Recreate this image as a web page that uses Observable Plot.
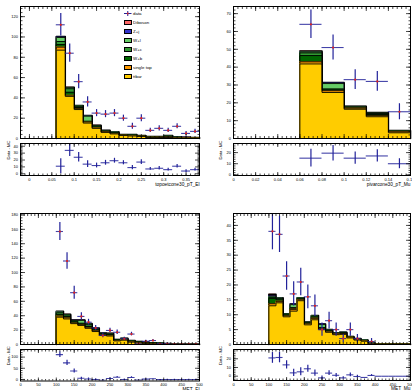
<!DOCTYPE html>
<html><head><meta charset="utf-8">
<script src="https://cdn.jsdelivr.net/npm/d3@7"></script>
<script src="https://cdn.jsdelivr.net/npm/@observablehq/plot@0.6"></script>
<style>
html,body{margin:0;padding:0;background:#fff;}
#root{position:relative;width:412px;height:390px;overflow:hidden;font-family:"Liberation Sans",Arial,sans-serif;}
#root svg{position:absolute;overflow:visible;background:transparent;}
.lg{position:absolute;white-space:nowrap;color:#000;font-size:4.4px;line-height:5.5px;}
.bx{position:absolute;box-sizing:border-box;border:0.8px solid #000;width:7.5px;height:5.5px;}
</style></head><body><div id="root"></div>
<script>
// ---------- processes ----------
const PROC_NAMES = ["ttbar", "single top", "W+b", "W+c", "W+l", "Z+j", "Diboson"];
const PROC_COLORS = ["#ffcc00", "#ff9900", "#006600", "#339933", "#66cc66", "#3333cc", "#ff6666"];
const LEGEND_ORDER = ["Diboson", "Z+j", "W+l", "W+c", "W+b", "single top", "ttbar"];

// ---------- panel 1 : topoetcone30_pT_El ----------
const elIsoEdges = [0.06,0.08,0.10,0.12,0.14,0.16,0.18,0.20,0.22,0.24,0.26,0.28,0.30,0.32,0.34,0.36,0.38];
const elIsoTtbar = [87, 41.5, 28.5, 15.2, 10, 6, 4.5, 3, 2.5, 2, 1, 1, 1, 0.7, 0.5, 0.5];
const elIsoSingleTop = [3, 1, 0.8, 0.8, 0.5, 0.4, 0.4, 0.2, 0.3, 0.2, 0.2, 0.2, 0.3, 0.2, 0.15, 0.1];
const elIsoWb = [2.5, 3, 1.2, 0.5, 0.8, 0.5, 0.5, 0.3, 0.4, 0.3, 0.2, 0.3, 0.5, 0.2, 0.2, 0.1];
const elIsoWc = [3, 3.5, 1.2, 0.5, 0.8, 0.5, 0.5, 0.2, 0.3, 0.2, 0.2, 0.2, 0.5, 0.2, 0.15, 0.1];
const elIsoWl = [4, 1, 0.5, 5, 0.7, 0.4, 0.4, 0.2, 0.2, 0.2, 0.1, 0.2, 0.3, 0.1, 0.1, 0.1];
const elIsoZj = [0.5, 0.3, 0.2, 0.3, 0.1, 0.1, 0.1, 0.05, 0.05, 0.05, 0.05, 0.05, 0.1, 0.05, 0.05, 0.05];
const elIsoDiboson = [0.5, 0.2, 0.1, 0.2, 0.1, 0.1, 0.1, 0.05, 0.05, 0.05, 0.05, 0.05, 0.1, 0.05, 0.05, 0.05];
const elIsoData = [112, 84, 56, 36, 25, 24, 25, 20, 12, 20, 8, 10, 8, 12, 5, 7];
const elIsoErr = [11, 9, 7, 5, 3.5, 3.5, 3.5, 3, 3, 3.5, 2, 2.5, 2, 2.5, 2, 2];
const elIsoDiff = [11, 34, 24, 14, 12, 16, 19, 16, 9, 17, 7, 8, 6, 11, 4, 6];
const elIsoXTicks = [0, 0.05, 0.1, 0.15, 0.2, 0.25, 0.3, 0.35];
const elIsoYTicks = [0, 20, 40, 60, 80, 100, 120];
const elIsoRTicks = [0, 10, 20, 30, 40];

// ---------- panel 2 : pivarcone30_pT_Mu ----------
const muIsoEdges = [0.06, 0.08, 0.10, 0.12, 0.14, 0.16];
const muIsoTtbar = [41.8, 25.8, 16.4, 12.2, 3.2];
const muIsoSingleTop = [1.2, 1.0, 0.5, 0.6, 0.4];
const muIsoWb = [3.5, 0.5, 0.4, 0.6, 0.3];
const muIsoWc = [1.5, 0.5, 0.4, 0.6, 0.3];
const muIsoWl = [0.5, 3.0, 0.3, 0.5, 0.2];
const muIsoZj = [0.3, 0.3, 0, 0, 0];
const muIsoDiboson = [0.2, 0.2, 0, 0, 0];
const muIsoData = [64, 51, 33, 32, 15];
const muIsoErr = [8, 7, 5.5, 5.5, 4.5];
const muIsoDiff = [15, 19.5, 15, 17, 10];
const muIsoXTicks = [0, 0.02, 0.04, 0.06, 0.08, 0.1, 0.12, 0.14, 0.16];
const muIsoYTicks = [0, 10, 20, 30, 40, 50, 60, 70];
const muIsoRTicks = [0, 10, 20];

// ---------- panel 3 : MET_El ----------
const metEdges = [100,120,140,160,180,200,220,240,260,280,300,320,340,360,380,400,420,440,460,480,500];
const metElTtbar = [38, 35.5, 29, 26.5, 22.5, 18, 12.5, 11.8, 5, 6, 3.3, 2.3, 1.5, 1, 0.8, 0.5, 0.3, 0.2, 0.2, 0.2];
const metElSingleTop = [1.5, 1.5, 1, 1, 1, 1, 0.8, 0.8, 0.5, 0.6, 0.5, 0.5, 0.4, 0.4, 0.3, 0.2, 0.1, 0.1, 0.1, 0.1];
const metElWb = [2, 2, 1.5, 1, 1.5, 1.5, 1, 1, 0.5, 0.7, 0.6, 0.5, 0.4, 0.4, 0.3, 0.2, 0.2, 0.1, 0.1, 0.1];
const metElWc = [2.5, 2, 1.5, 1, 2.5, 1.5, 1, 1, 0.5, 0.7, 0.6, 0.5, 0.5, 0.4, 0.3, 0.2, 0.1, 0.1, 0.1, 0.1];
const metElWl = [1, 0.5, 0.5, 4, 1, 0.5, 0.5, 0.7, 0.5, 0.5, 0.5, 0.4, 0.4, 0.3, 0.3, 0.1, 0.1, 0.1, 0, 0];
const metElZj = [0.5, 0.3, 0.3, 0.3, 0.3, 0.3, 0.1, 0.1, 0, 0, 0, 0, 0, 0, 0, 0, 0, 0, 0, 0];
const metElDiboson = [0.5, 0.2, 0.2, 0.2, 0.2, 0.2, 0.1, 0.1, 0, 0, 0, 0, 0, 0, 0, 0, 0, 0, 0, 0];
const metElData = [157, 116, 72, 39, 31, 23, 12.5, 19.5, 17, 8, 14.5, 1, 4.5, 5.5, 1, 1, 0.5, 0.5, 0.5, 0.5];
const metElErr = [12.5, 11.5, 9, 5, 4, 3.5, 3, 3, 3, 2, 2.5, 1, 1.5, 1.5, 1, 1, 0.7, 0.7, 0.7, 0.7];
const metElDiff = [111, 74, 38, 5, 2, 0, -3.5, 4, 10, -0.5, 9, -3, 1.3, 3, -1, -0.2, -0.3, -0.1, 0, 0];
const metXTicks = [0, 50, 100, 150, 200, 250, 300, 350, 400, 450, 500];
const metElYTicks = [0, 20, 40, 60, 80, 100, 120, 140, 160, 180];
const metElRTicks = [0, 50, 100];

// ---------- panel 4 : MET_Mu ----------
const metMuTtbar = [13, 14, 9.3, 11.2, 14.7, 6.6, 8.3, 5.0, 4.1, 3.3, 3.4, 2.2, 1.5, 1.1, 0.2, 0.1, 0.1, 0.1, 0.1, 0.1];
const metMuSingleTop = [0.7, 0.5, 0.3, 0.6, 0.3, 0.3, 0.5, 0.3, 0.3, 0.2, 0.3, 0.2, 0.2, 0.1, 0.1, 0, 0, 0, 0, 0];
const metMuWb = [1.8, 0.5, 0.3, 0.3, 0.3, 0.3, 0.4, 0.2, 0.2, 0.2, 0.2, 0.1, 0.1, 0.1, 0.05, 0.02, 0.02, 0.02, 0.02, 0.02];
const metMuWc = [0.3, 0.4, 0.3, 0.3, 0.2, 0.2, 0.3, 0.2, 0.2, 0.1, 0.1, 0.1, 0.1, 0.1, 0.05, 0.02, 0.02, 0.02, 0.02, 0.02];
const metMuWl = [0.2, 0.2, 0.1, 1.0, 0.2, 0.1, 0.2, 1.0, 0.2, 0.1, 0.1, 0.1, 0.1, 0.1, 0, 0, 0, 0, 0, 0];
const metMuZj = [0.4, 0.1, 0, 0.2, 0, 0, 0, 0.2, 0, 0, 0, 0, 0, 0, 0, 0, 0, 0, 0, 0];
const metMuDiboson = [0.5, 0, 0, 0, 0, 0, 0, 0, 0, 0, 0, 0, 0, 0, 0, 0, 0, 0, 0, 0];
const metMuData = [38, 37, 23, 17, 21, 16, 13, 5, 8, 5, 2, 5, 2, 0, 1, 0, 0, 0, 0, 0];
const metMuErr = [6.2, 6.1, 4.8, 4.1, 4.6, 4, 3.6, 2.2, 2.8, 2.2, 1.4, 2.2, 1.4, 0, 1, 0, 0, 0, 0, 0];
const metMuDiff = [21, 21.5, 13, 3.8, 5, 8.5, 3.5, -2, 3.5, 1, -2, 1.5, -0.4, -1.5, 0.8, -0.1, -0.1, -0.1, -0.1, -0.1];
const metMuYTicks = [0, 5, 10, 15, 20, 25, 30, 35, 40];
const metMuRTicks = [0, 10, 20];

// ---------- helpers ----------
const BLUE = "#22229a";
const RED = "#e0201b";
const FONT = "Liberation Sans, Arial, sans-serif";
const root = document.getElementById("root");

function stackMarks(edges, layers) {
  const n = layers[0].length;
  const cum = [];
  let run = new Array(n).fill(0);
  for (const L of layers) { run = run.map((v, i) => v + L[i]); cum.push(run); }
  const marks = [];
  for (let k = cum.length - 1; k >= 0; k--) {
    const c = cum[k];
    const area = c.map((v, i) => ({x: edges[i], y: v})).concat([{x: edges[n], y: c[n - 1]}]);
    const line = [{x: edges[0], y: 0}, ...area, {x: edges[n], y: 0}];
    marks.push(Plot.areaY(area, {x: "x", y: "y", curve: "step-after", fill: PROC_COLORS[k]}));
    marks.push(Plot.lineY(line, {x: "x", y: "y", curve: "step-after", stroke: "black",
      strokeWidth: k === cum.length - 1 ? 1.6 : 0.9}));
  }
  return marks;
}

function dataMarks(edges, vals, errs, withDot, skipZero) {
  const rows = vals.map((v, i) => ({
    x: (edges[i] + edges[i + 1]) / 2, x1: edges[i], x2: edges[i + 1], y: v, e: errs[i]
  })).filter(d => !skipZero || d.y > 0);
  const m = [
    Plot.ruleY(rows, {y: "y", x1: "x1", x2: "x2", stroke: BLUE, strokeWidth: 1.1, strokeOpacity: 0.85, clip: true}),
    Plot.ruleX(rows, {x: "x", y1: d => d.y - d.e, y2: d => d.y + d.e, stroke: BLUE, strokeWidth: 1.2, clip: true})
  ];
  if (withDot) m.push(Plot.dot(rows, {x: "x", y: "y", r: 1.1, fill: RED, stroke: null, clip: true}));
  return m;
}

function range(a, b, s) { return d3.range(Math.round(a / s), Math.round(b / s) + 1).map(k => +(k * s).toFixed(6)); }

function axesMarks(c) {
  const m = [];
  for (const a of ["bottom", "top"]) {
    m.push(Plot.axisX(c.xMin, {anchor: a, tickSize: -c.txMin, fill: "none", label: null, strokeWidth: 0.7}));
    m.push(Plot.axisX(c.xMaj, {anchor: a, tickSize: -c.txMaj, fill: "none", label: null, strokeWidth: 0.7}));
  }
  for (const a of ["left", "right"]) {
    m.push(Plot.axisY(c.yMin, {anchor: a, tickSize: -c.tyMin, fill: "none", label: null, strokeWidth: 0.7}));
    m.push(Plot.axisY(c.yMaj, {anchor: a, tickSize: -c.tyMaj, fill: "none", label: null, strokeWidth: 0.7}));
  }
  m.push(Plot.axisY(c.yMaj, {anchor: "left", tickSize: 0, tickPadding: 2.5, fontSize: 4, label: null,
    tickFormat: d => String(d), fill: "#000"}));
  if (c.xLabels) m.push(Plot.axisX(c.xMaj, {anchor: "bottom", tickSize: 0, tickPadding: 2.2, fontSize: 4,
    label: null, tickFormat: d => String(d), fill: "#000"}));
  m.push(Plot.frame({stroke: "black", strokeWidth: 1}));
  return m;
}

function place(svg, left, top) {
  svg.style.position = "absolute";
  svg.style.left = left + "px";
  svg.style.top = top + "px";
  root.appendChild(svg);
}

function panel(p) {
  const W = 206;
  const main = Plot.plot({
    width: W, height: p.mainH,
    marginLeft: p.ml, marginRight: p.mr, marginTop: p.mainMt, marginBottom: p.mainMb,
    style: {fontFamily: FONT, background: "transparent", overflow: "visible"},
    x: {domain: p.xDomain, label: null},
    y: {domain: p.yDomain, label: null},
    marks: [
      ...stackMarks(p.edges, p.layers),
      ...dataMarks(p.edges, p.data, p.err, true, true),
      ...axesMarks({xMaj: p.xMaj, xMin: p.xMin, yMaj: p.yMaj, yMin: p.yMin,
        txMaj: 4, txMin: 2, tyMaj: 5, tyMin: 2.5, xLabels: false})
    ]
  });
  place(main, p.left, p.top);
  const ratio = Plot.plot({
    width: W, height: p.ratioH,
    marginLeft: p.ml, marginRight: p.mr, marginTop: p.ratioMt, marginBottom: p.ratioMb,
    style: {fontFamily: FONT, background: "transparent", overflow: "visible"},
    x: {domain: p.xDomain, label: null},
    y: {domain: p.rDomain, label: null},
    marks: [
      ...dataMarks(p.edges, p.diff, p.err, false, false),
      ...axesMarks({xMaj: p.xMaj, xMin: p.xMin, yMaj: p.rMaj, yMin: p.rMin,
        txMaj: 3, txMin: 1.5, tyMaj: 5, tyMin: 2.5, xLabels: true}),
      Plot.text([p.xlabel], {text: d => d, frameAnchor: "bottom-right", dy: p.xlabDy, fontSize: 4.8,
        textAnchor: "end", fill: "#000"}),
      Plot.text(["Data - MC"], {text: d => d, frameAnchor: "left", dx: p.ylabDx, rotate: -90, fontSize: 4.2,
        fill: "#000"})
    ]
  });
  place(ratio, p.left, p.ratioTop);
}

// ---------- build the four panels ----------
panel({
  left: 0, top: 0, mainH: 140, ml: 20, mr: 7, mainMt: 6, mainMb: 2,
  ratioTop: 140, ratioH: 50, ratioMt: 3, ratioMb: 15,
  xDomain: [-0.02, 0.38], yDomain: [0, 130], rDomain: [-2.5, 44],
  edges: elIsoEdges,
  layers: [elIsoTtbar, elIsoSingleTop, elIsoWb, elIsoWc, elIsoWl, elIsoZj, elIsoDiboson],
  data: elIsoData, err: elIsoErr, diff: elIsoDiff,
  xMaj: elIsoXTicks, xMin: range(-0.02, 0.38, 0.01), yMaj: elIsoYTicks, yMin: range(0, 128, 4),
  rMaj: elIsoRTicks, rMin: range(-2, 44, 2),
  xlabel: "topoetcone30_pT_El", xlabDy: 10.3, ylabDx: -11.5
});
panel({
  left: 206, top: 0, mainH: 140, ml: 27, mr: 2, mainMt: 6, mainMb: 2,
  ratioTop: 140, ratioH: 50, ratioMt: 3, ratioMb: 15,
  xDomain: [0, 0.16], yDomain: [0, 74], rDomain: [-0.6, 28.2],
  edges: muIsoEdges,
  layers: [muIsoTtbar, muIsoSingleTop, muIsoWb, muIsoWc, muIsoWl, muIsoZj, muIsoDiboson],
  data: muIsoData, err: muIsoErr, diff: muIsoDiff,
  xMaj: muIsoXTicks, xMin: range(0, 0.16, 0.004), yMaj: muIsoYTicks, yMin: range(0, 74, 2),
  rMaj: muIsoRTicks, rMin: range(0, 28, 2),
  xlabel: "pivarcone30_pT_Mu", xlabDy: 10.3, ylabDx: -12.5
});
panel({
  left: 0, top: 195, mainH: 151, ml: 20, mr: 7, mainMt: 18, mainMb: 2,
  ratioTop: 346, ratioH: 44, ratioMt: 3, ratioMb: 9.5,
  xDomain: [0, 500], yDomain: [0, 182], rDomain: [-7, 134],
  edges: metEdges,
  layers: [metElTtbar, metElSingleTop, metElWb, metElWc, metElWl, metElZj, metElDiboson],
  data: metElData, err: metElErr, diff: metElDiff,
  xMaj: metXTicks, xMin: range(0, 500, 10), yMaj: metElYTicks, yMin: range(0, 180, 4),
  rMaj: metElRTicks, rMin: range(0, 130, 10),
  xlabel: "MET_El", xlabDy: 9.6, ylabDx: -11.5
});
panel({
  left: 206, top: 195, mainH: 151, ml: 27, mr: 2, mainMt: 18, mainMb: 2,
  ratioTop: 346, ratioH: 44, ratioMt: 3, ratioMb: 10,
  xDomain: [0, 500], yDomain: [0, 44], rDomain: [-5, 30.7],
  edges: metEdges,
  layers: [metMuTtbar, metMuSingleTop, metMuWb, metMuWc, metMuWl, metMuZj, metMuDiboson],
  data: metMuData, err: metMuErr, diff: metMuDiff,
  xMaj: metXTicks, xMin: range(0, 500, 10), yMaj: metMuYTicks, yMin: range(0, 44, 1),
  rMaj: metMuRTicks, rMin: range(-4, 30, 2),
  xlabel: "MET_Mu", xlabDy: 9.6, ylabDx: -12.5
});

// ---------- legend (panel 1) ----------
(function legend() {
  const x0 = 124, y0 = 13.3, dy = 9;
  const cross = document.createElementNS("http://www.w3.org/2000/svg", "svg");
  cross.setAttribute("width", 8); cross.setAttribute("height", 5);
  cross.style.left = x0 + "px"; cross.style.top = (y0 - 2.5) + "px";
  cross.innerHTML = `<line x1="0" y1="2.5" x2="7.5" y2="2.5" stroke="${BLUE}" stroke-width="1"/>` +
    `<line x1="3.75" y1="0" x2="3.75" y2="5" stroke="${BLUE}" stroke-width="1"/>` +
    `<circle cx="3.75" cy="2.5" r="0.9" fill="${RED}"/>`;
  root.appendChild(cross);
  const t = document.createElement("div");
  t.className = "lg"; t.textContent = "data";
  t.style.left = (x0 + 9) + "px"; t.style.top = (y0 - 2.75) + "px";
  root.appendChild(t);
  LEGEND_ORDER.forEach((name, i) => {
    const yc = y0 + dy * (i + 1);
    const b = document.createElement("div");
    b.className = "bx";
    b.style.left = x0 + "px"; b.style.top = (yc - 2.75) + "px";
    b.style.background = PROC_COLORS[PROC_NAMES.indexOf(name)];
    root.appendChild(b);
    const l = document.createElement("div");
    l.className = "lg"; l.textContent = name;
    l.style.left = (x0 + 9) + "px"; l.style.top = (yc - 2.75) + "px";
    root.appendChild(l);
  });
})();
</script></body></html>
